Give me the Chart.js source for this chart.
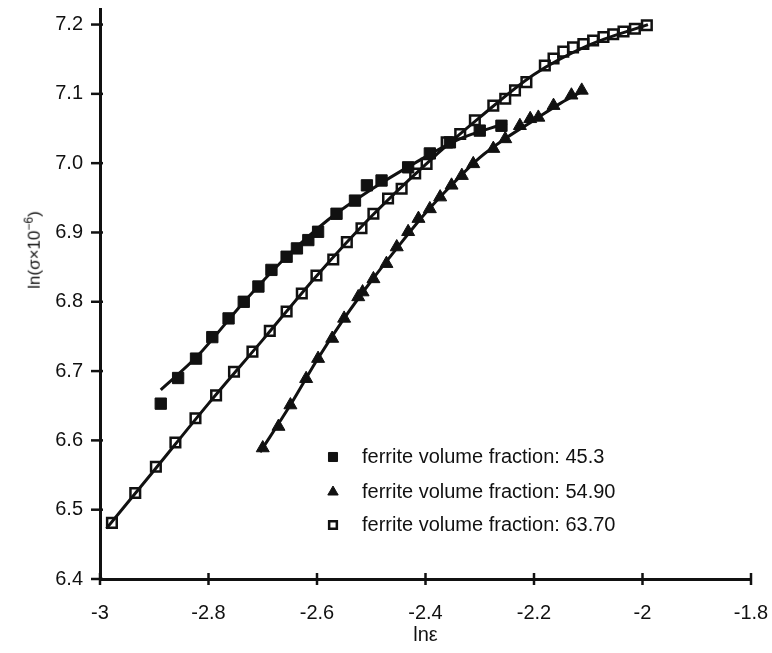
<!DOCTYPE html>
<html>
<head>
<meta charset="utf-8">
<title>Flow stress vs strain</title>
<script src="https://cdn.jsdelivr.net/npm/chart.js@4.4.0/dist/chart.umd.min.js"></script>
<style>
    html, body { margin: 0; padding: 0; background: #fff; }
    #wrap { position: relative; width: 772px; height: 653px; }
    #yTitle {
        position: absolute; left: 33px; top: 250px;
        transform: translate(-50%, -50%) rotate(-90deg);
        font: 17px "Liberation Sans", Arial, sans-serif; color: #111;
        white-space: nowrap;
    }
    #yTitle sup { font-size: 12px; }
</style>
</head>
<body>
<div id="wrap">
    <canvas id="flowChart" width="772" height="653"></canvas>
    <div id="yTitle">ln(σ×10<sup>−6</sup>)</div>
</div>
<script>
// measured points, ferrite volume fraction 45.3 (filled squares)
const sq45X = [-2.888, -2.856, -2.823, -2.793, -2.763, -2.735, -2.708, -2.684, -2.656, -2.637, -2.616,
               -2.598, -2.564, -2.530, -2.508, -2.481, -2.432, -2.392, -2.355, -2.300, -2.260];
const sq45Y = [6.653, 6.690, 6.718, 6.749, 6.776, 6.800, 6.822, 6.846, 6.865, 6.877, 6.889,
               6.901, 6.927, 6.946, 6.968, 6.975, 6.994, 7.014, 7.030, 7.047, 7.054];

// ferrite volume fraction 54.90 (triangles)
const tri55X = [-2.700, -2.671, -2.649, -2.620, -2.598, -2.572, -2.550, -2.524, -2.516, -2.496, -2.472,
                -2.453, -2.432, -2.413, -2.392, -2.373, -2.352, -2.333, -2.312, -2.275, -2.253,
                -2.226, -2.207, -2.192, -2.164, -2.131, -2.112];
const tri55Y = [6.589, 6.620, 6.651, 6.689, 6.718, 6.747, 6.776, 6.807, 6.814, 6.833, 6.855,
                6.879, 6.901, 6.920, 6.934, 6.951, 6.968, 6.982, 6.999, 7.021, 7.035,
                7.054, 7.064, 7.066, 7.083, 7.098, 7.105];

// ferrite volume fraction 63.70 (open squares)
const sq63X = [-2.978, -2.935, -2.897, -2.861, -2.824, -2.786, -2.753, -2.719, -2.687, -2.656, -2.628,
               -2.601, -2.570, -2.545, -2.518, -2.496, -2.469, -2.444, -2.419, -2.398, -2.361,
               -2.336, -2.309, -2.275, -2.253, -2.235, -2.214, -2.180, -2.164, -2.146, -2.128,
               -2.109, -2.091, -2.072, -2.054, -2.035, -2.014, -1.992];
const sq63Y = [6.481, 6.524, 6.562, 6.597, 6.632, 6.665, 6.699, 6.728, 6.758, 6.786, 6.812,
               6.838, 6.861, 6.886, 6.906, 6.927, 6.949, 6.963, 6.985, 6.999, 7.030,
               7.042, 7.062, 7.083, 7.093, 7.105, 7.117, 7.141, 7.151, 7.161, 7.167,
               7.172, 7.177, 7.182, 7.186, 7.190, 7.194, 7.199];

// fitted curves
const fit45X = [-2.888, -2.82, -2.74, -2.66, -2.58, -2.50, -2.42, -2.34, -2.25];
const fit45Y = [6.673, 6.722, 6.795, 6.862, 6.918, 6.962, 7.000, 7.034, 7.058];
const fit55X = [-2.705, -2.65, -2.60, -2.55, -2.50, -2.45, -2.40, -2.35, -2.30, -2.25, -2.20, -2.15, -2.11];
const fit55Y = [6.583, 6.650, 6.716, 6.776, 6.830, 6.880, 6.928, 6.970, 7.008, 7.037, 7.062, 7.087, 7.104];
const fit63X = [-2.988, -2.90, -2.80, -2.70, -2.60, -2.50, -2.40, -2.30, -2.20, -2.10, -1.99];
const fit63Y = [6.473, 6.557, 6.653, 6.745, 6.838, 6.923, 6.998, 7.066, 7.128, 7.170, 7.200];

// axis ticks
const xTicks = [-3, -2.8, -2.6, -2.4, -2.2, -2, -1.8];
const yTicks = [6.4, 6.5, 6.6, 6.7, 6.8, 6.9, 7.0, 7.1, 7.2];

const seriesLabels = ['ferrite volume fraction: 45.3', 'ferrite volume fraction: 54.90', 'ferrite volume fraction: 63.70'];

const INK = '#111';
const FONT = '"Liberation Sans", Arial, sans-serif';

function toPoints(xs, ys) {
    return xs.map((x, i) => ({ x: x, y: ys[i] }));
}

function markerSet(label, xs, ys, style, radius, fill, border) {
    return {
        label: label,
        data: toPoints(xs, ys),
        showLine: false,
        pointStyle: style,
        pointRadius: radius,
        pointHoverRadius: radius,
        pointBackgroundColor: fill,
        pointBorderColor: INK,
        pointBorderWidth: border,
        order: 1
    };
}

function fitLine(xs, ys) {
    return {
        label: '',
        data: toPoints(xs, ys),
        showLine: true,
        borderColor: INK,
        borderWidth: 3,
        pointRadius: 0,
        tension: 0.4,
        cubicInterpolationMode: 'monotone',
        fill: false,
        order: 2
    };
}

// legend drawn inside the plot area, below the curves
const insetLegend = {
    id: 'insetLegend',
    afterDatasetsDraw(chart) {
        const ctx = chart.ctx;
        const markerX = 333, textX = 362, rowY = [457, 492, 525];
        ctx.save();
        ctx.font = '20px ' + FONT;
        ctx.textBaseline = 'middle';
        seriesLabels.forEach((text, i) => {
            const ds = chart.data.datasets[i];
            ctx.fillStyle = ds.pointBackgroundColor;
            ctx.strokeStyle = INK;
            ctx.lineWidth = ds.pointBorderWidth;
            Chart.helpers.drawPoint(ctx, {
                pointStyle: ds.pointStyle,
                radius: ds.pointRadius * 0.8,
                rotation: 0,
                borderWidth: ds.pointBorderWidth
            }, markerX, rowY[i]);
            ctx.fillStyle = INK;
            ctx.fillText(text, textX, rowY[i]);
        });
        ctx.restore();
    }
};

// tick marks that cross the axis lines
const crossTicks = {
    id: 'crossTicks',
    afterDraw(chart) {
        const { ctx, chartArea, scales } = chart;
        ctx.save();
        ctx.strokeStyle = INK;
        ctx.lineWidth = 2.5;
        scales.x.ticks.forEach(t => {
            const px = scales.x.getPixelForValue(t.value);
            ctx.beginPath();
            ctx.moveTo(px, chartArea.bottom - 6);
            ctx.lineTo(px, chartArea.bottom + 6);
            ctx.stroke();
        });
        scales.y.ticks.forEach(t => {
            const py = scales.y.getPixelForValue(t.value);
            ctx.beginPath();
            ctx.moveTo(chartArea.left - 9, py);
            ctx.lineTo(chartArea.left + 3, py);
            ctx.stroke();
        });
        ctx.restore();
    }
};

document.addEventListener('DOMContentLoaded', function() {
    const ctx = document.getElementById('flowChart').getContext('2d');
    new Chart(ctx, {
        type: 'scatter',
        data: {
            datasets: [
                markerSet(seriesLabels[0], sq45X, sq45Y, 'rect', 8, INK, 1),
                markerSet(seriesLabels[1], tri55X, tri55Y, 'triangle', 7.5, INK, 1),
                markerSet(seriesLabels[2], sq63X, sq63Y, 'rect', 6.8, 'rgba(0,0,0,0)', 2.5),
                fitLine(fit45X, fit45Y),
                fitLine(fit55X, fit55Y),
                fitLine(fit63X, fit63Y)
            ]
        },
        options: {
            responsive: false,
            animation: false,
            devicePixelRatio: 1,
            layout: { padding: { top: 9, right: 21, left: 0, bottom: 0 } },
            plugins: {
                legend: { display: false },
                tooltip: { enabled: false }
            },
            scales: {
                x: {
                    type: 'linear',
                    min: -3,
                    max: -1.8,
                    afterBuildTicks: scale => { scale.ticks = xTicks.map(v => ({ value: v })); },
                    afterFit: scale => {
                        scale.height = 74;
                        scale.paddingLeft = 0;
                        scale.paddingRight = 0;
                    },
                    border: { color: INK, width: 3 },
                    grid: { display: true, drawOnChartArea: false, drawTicks: false },
                    ticks: {
                        padding: 22,
                        color: INK,
                        font: { family: FONT, size: 20 },
                        callback: v => String(v)
                    },
                    title: {
                        display: true,
                        text: 'lnε',
                        color: INK,
                        font: { family: FONT, size: 20 },
                        padding: { top: 0, bottom: 6 }
                    }
                },
                y: {
                    type: 'linear',
                    min: 6.4,
                    max: 7.222,
                    afterBuildTicks: scale => { scale.ticks = yTicks.map(v => ({ value: v })); },
                    afterFit: scale => {
                        scale.width = 100;
                        scale.paddingTop = 0;
                        scale.paddingBottom = 0;
                    },
                    border: { color: INK, width: 3 },
                    grid: { display: true, drawOnChartArea: false, drawTicks: false },
                    ticks: {
                        padding: 17,
                        color: INK,
                        font: { family: FONT, size: 20 },
                        callback: v => v.toFixed(1)
                    }
                }
            }
        },
        plugins: [insetLegend, crossTicks]
    });
});
</script>
</body>
</html>
